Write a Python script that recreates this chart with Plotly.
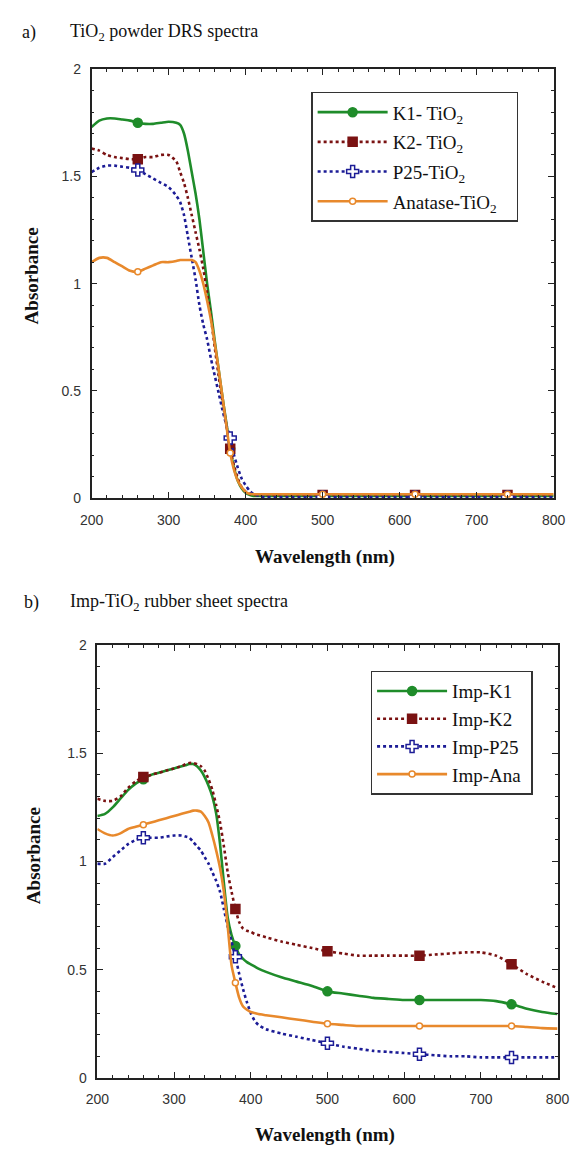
import plotly.graph_objects as go

# ---------------- data ----------------
wl = [200, 210, 220, 230, 240, 250, 260, 270, 280, 290, 300, 310, 315, 320, 325, 330,
      335, 340, 345, 350, 355, 360, 365, 370, 375, 380, 385, 390, 395, 400, 405, 410,
      420, 440, 460, 480, 500, 520, 540, 560, 580, 600, 620, 640, 660, 680, 700, 720,
      740, 760, 780, 800]
marker_wl = [260, 380, 500, 620, 740]

# (a) TiO2 powder DRS spectra
a_k1 = [1.73, 1.76, 1.77, 1.77, 1.765, 1.76, 1.75, 1.745, 1.745, 1.75, 1.755, 1.75, 1.74, 1.70, 1.62, 1.52,
        1.42, 1.30, 1.15, 1.00, 0.87, 0.73, 0.60, 0.47, 0.35, 0.23, 0.14, 0.08, 0.045, 0.025, 0.015, 0.01,
        0.01, 0.01, 0.01, 0.01, 0.01, 0.01, 0.01, 0.01, 0.01, 0.01, 0.01, 0.01, 0.01, 0.01, 0.01, 0.01,
        0.01, 0.01, 0.01, 0.01]
a_k2 = [1.63, 1.62, 1.60, 1.59, 1.585, 1.58, 1.58, 1.59, 1.59, 1.60, 1.60, 1.57, 1.52, 1.47, 1.40, 1.32,
        1.24, 1.16, 1.07, 0.96, 0.84, 0.70, 0.57, 0.45, 0.34, 0.23, 0.15, 0.09, 0.05, 0.03, 0.02, 0.015,
        0.015, 0.015, 0.015, 0.015, 0.015, 0.015, 0.015, 0.015, 0.015, 0.015, 0.015, 0.015, 0.015, 0.015, 0.015, 0.015,
        0.015, 0.015, 0.015, 0.015]
a_p25 = [1.52, 1.54, 1.55, 1.55, 1.545, 1.54, 1.53, 1.51, 1.49, 1.47, 1.45, 1.41, 1.38, 1.32, 1.22, 1.12,
         1.02, 0.90, 0.81, 0.74, 0.65, 0.57, 0.49, 0.41, 0.34, 0.28, 0.20, 0.14, 0.09, 0.06, 0.035, 0.02,
         0.008, 0.005, 0.005, 0.005, 0.005, 0.005, 0.005, 0.005, 0.005, 0.005, 0.005, 0.005, 0.005, 0.005, 0.005, 0.005,
         0.005, 0.005, 0.005, 0.005]
a_ana = [1.10, 1.12, 1.12, 1.10, 1.08, 1.06, 1.055, 1.07, 1.085, 1.10, 1.10, 1.105, 1.11, 1.11, 1.11, 1.11,
         1.10, 1.06, 1.00, 0.92, 0.83, 0.72, 0.60, 0.47, 0.34, 0.21, 0.13, 0.08, 0.05, 0.03, 0.02, 0.018,
         0.018, 0.018, 0.018, 0.018, 0.018, 0.018, 0.018, 0.018, 0.018, 0.018, 0.018, 0.018, 0.018, 0.018, 0.018, 0.018,
         0.018, 0.018, 0.018, 0.018]

# (b) Imp-TiO2 rubber sheet spectra
b_k1 = [1.21, 1.22, 1.25, 1.29, 1.33, 1.36, 1.38, 1.40, 1.41, 1.42, 1.43, 1.44, 1.445, 1.45, 1.45, 1.44,
        1.42, 1.39, 1.35, 1.30, 1.22, 1.08, 0.90, 0.74, 0.66, 0.61, 0.57, 0.55, 0.535, 0.525, 0.515, 0.505,
        0.49, 0.465, 0.445, 0.425, 0.40, 0.39, 0.38, 0.37, 0.365, 0.36, 0.36, 0.36, 0.36, 0.36, 0.36, 0.355,
        0.34, 0.32, 0.305, 0.295]
b_k2 = [1.29, 1.28, 1.28, 1.30, 1.34, 1.37, 1.39, 1.40, 1.41, 1.42, 1.43, 1.44, 1.45, 1.455, 1.455, 1.45,
        1.44, 1.42, 1.38, 1.33, 1.26, 1.18, 1.07, 0.95, 0.86, 0.78, 0.72, 0.69, 0.68, 0.675, 0.665, 0.66,
        0.65, 0.63, 0.615, 0.60, 0.585, 0.575, 0.565, 0.565, 0.565, 0.565, 0.565, 0.57, 0.575, 0.58, 0.58, 0.565,
        0.525, 0.48, 0.445, 0.415]
b_p25 = [0.99, 0.99, 1.02, 1.05, 1.08, 1.10, 1.11, 1.11, 1.11, 1.115, 1.12, 1.12, 1.115, 1.11, 1.09, 1.07,
         1.05, 1.02, 0.99, 0.95, 0.91, 0.86, 0.78, 0.70, 0.63, 0.56, 0.48, 0.41, 0.35, 0.30, 0.265, 0.245,
         0.225, 0.205, 0.19, 0.175, 0.16, 0.145, 0.135, 0.125, 0.12, 0.115, 0.11, 0.105, 0.10, 0.10, 0.095, 0.095,
         0.095, 0.095, 0.095, 0.095]
b_ana = [1.15, 1.13, 1.12, 1.13, 1.15, 1.16, 1.17, 1.18, 1.19, 1.20, 1.21, 1.22, 1.225, 1.23, 1.235, 1.235,
         1.23, 1.21, 1.18, 1.12, 1.05, 0.97, 0.86, 0.70, 0.52, 0.44, 0.37, 0.33, 0.315, 0.305, 0.30, 0.295,
         0.29, 0.28, 0.27, 0.26, 0.25, 0.245, 0.24, 0.24, 0.24, 0.24, 0.24, 0.24, 0.24, 0.24, 0.24, 0.24,
         0.24, 0.235, 0.23, 0.228]

names_a = ["K1- TiO<sub>2</sub>", "K2- TiO<sub>2</sub>", "P25-TiO<sub>2</sub>", "Anatase-TiO<sub>2</sub>"]
names_b = ["Imp-K1", "Imp-K2", "Imp-P25", "Imp-Ana"]

# ---------------- styles ----------------
GREEN = "#1f8c2a"
MAROON = "#7a1212"
NAVY = "#1c1c96"
ORANGE = "#e8892c"
styles = [
    dict(color=GREEN, dash="solid", symbol="circle", msize=9, mfill=GREEN, mline=GREEN),
    dict(color=MAROON, dash="dot", symbol="square", msize=9, mfill=MAROON, mline=MAROON),
    dict(color=NAVY, dash="dot", symbol="cross", msize=10, mfill="white", mline=NAVY),
    dict(color=ORANGE, dash="solid", symbol="circle", msize=6, mfill="white", mline=ORANGE),
]
NBSP = "\u00a0"

fig = go.Figure()


def add_panel(series, names, xa, ya, legend_id, pad):
    for ys, name, st in zip(series, names, styles):
        fig.add_trace(go.Scatter(
            x=wl, y=ys, mode="lines", xaxis=xa, yaxis=ya, showlegend=False,
            line=dict(color=st["color"], width=2.6, dash=st["dash"], shape="spline", smoothing=0.6),
            hoverinfo="skip"))
        mx = [w for w in wl if w in marker_wl]
        my = [y for w, y in zip(wl, ys) if w in marker_wl]
        fig.add_trace(go.Scatter(
            x=mx, y=my, mode="markers", xaxis=xa, yaxis=ya, showlegend=False,
            marker=dict(symbol=st["symbol"], size=st["msize"], color=st["mfill"],
                        line=dict(color=st["mline"], width=1.5))))
    for i, (name, st) in enumerate(zip(names, styles)):
        fig.add_trace(go.Scatter(
            x=[None], y=[None], mode="lines+markers", xaxis=xa, yaxis=ya, name=name + NBSP * pad,
            legend=legend_id, legendgroup=f"{legend_id}_{i}",
            line=dict(color=st["color"], width=2.6, dash=st["dash"]),
            marker=dict(symbol=st["symbol"], size=st["msize"], color=st["mfill"],
                        line=dict(color=st["mline"], width=1.5))))


add_panel([a_k1, a_k2, a_p25, a_ana], names_a, "x", "y", "legend", 3)
add_panel([b_k1, b_k2, b_p25, b_ana], names_b, "x2", "y2", "legend2", 1)

W, H = 582, 1153
TICKFONT = dict(family="Liberation Sans, Arial", size=14, color="#333333")
SERIF = "Liberation Serif, Times New Roman"


def xaxis(dom, anchor):
    return dict(domain=dom, anchor=anchor, range=[200, 800], dtick=100, tick0=200,
                ticks="inside", ticklen=6, tickwidth=1.2, tickcolor="#222",
                minor=dict(dtick=20, ticks="inside", ticklen=3, tickwidth=1, tickcolor="#222"),
                showline=True, linecolor="#222", linewidth=1.5, mirror="ticks",
                showgrid=False, zeroline=False, tickfont=TICKFONT, ticklabelstandoff=8)


def yaxis(dom, anchor):
    return dict(domain=dom, anchor=anchor, range=[0, 2], dtick=0.5, tick0=0,
                ticks="inside", ticklen=6, tickwidth=1.2, tickcolor="#222",
                minor=dict(dtick=0.1, ticks="inside", ticklen=3, tickwidth=1, tickcolor="#222"),
                showline=True, linecolor="#222", linewidth=1.5, mirror="ticks",
                showgrid=False, zeroline=False, tickfont=TICKFONT, ticklabelstandoff=6)


fig.update_layout(
    width=W, height=H, margin=dict(l=0, r=0, t=0, b=0),
    paper_bgcolor="white", plot_bgcolor="white",
    xaxis=xaxis([83 / W, 565 / W], "y"),
    yaxis=yaxis([1 - 497 / H, 1 - 62 / H], "x"),
    xaxis2=xaxis([89 / W, 569 / W], "y2"),
    yaxis2=yaxis([1 - 1085 / H, 1 - 646 / H], "x2"),
    legend=dict(x=312 / W, y=1 - 85 / H, xanchor="left", yanchor="top",
                bgcolor="white", bordercolor="#333", borderwidth=1.5,
                font=dict(family=SERIF, size=19, color="#111"),
                itemwidth=70, tracegroupgap=2, traceorder="grouped"),
    legend2=dict(x=374 / W, y=1 - 672 / H, xanchor="left", yanchor="top",
                 bgcolor="white", bordercolor="#333", borderwidth=1.5,
                 font=dict(family=SERIF, size=19, color="#111"),
                 itemwidth=70, tracegroupgap=0, traceorder="grouped"),
)

ann = [
    dict(text="a)", x=8 / W, y=1 - 25 / H),
    dict(text="TiO<sub>2</sub> powder DRS spectra", x=58 / W, y=1 - 25 / H),
    dict(text="b)", x=10 / W, y=1 - 603 / H),
    dict(text="Imp-TiO<sub>2</sub> rubber sheet spectra", x=58 / W, y=1 - 603 / H),
]
for a in ann:
    fig.add_annotation(text=a["text"], x=a["x"], y=a["y"], xref="paper", yref="paper",
                       xanchor="left", yanchor="middle", showarrow=False,
                       font=dict(family=SERIF, size=18, color="#111"))

for txt, x, y, ang in [("<b>Absorbance</b>", 20, 272, -90),
                       ("<b>Absorbance</b>", 22, 860, -90),
                       ("<b>Wavelength (nm)</b>", 326, 557, 0),
                       ("<b>Wavelength (nm)</b>", 326, 1143, 0)]:
    fig.add_annotation(text=txt, x=x / W, y=1 - y / H, xref="paper", yref="paper",
                       xanchor="center", yanchor="middle", showarrow=False, textangle=ang,
                       font=dict(family=SERIF, size=19, color="#111"))

fig.write_html("out.html")
